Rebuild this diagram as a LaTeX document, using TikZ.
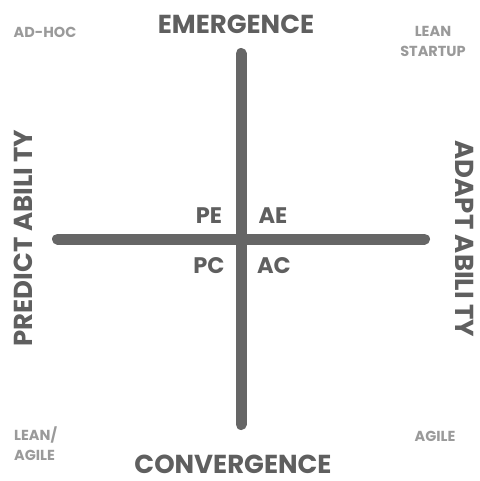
\documentclass[tikz,border=0pt]{standalone}
\usepackage{fontspec}
\setmainfont{Poppins}
\usetikzlibrary{positioning}
\definecolor{axisgray}{HTML}{666666}
\definecolor{labelgray}{HTML}{5F5F5F}
\definecolor{cornergray}{HTML}{9A9A9A}

\begin{document}
\begin{tikzpicture}[x=1pt,y=-1pt,
    axis/.style={line width=11pt, line cap=round, draw=axisgray},
    title/.style={font=\bfseries\fontsize{26}{26}\selectfont, text=labelgray, inner sep=0pt, text depth=0pt, anchor=base},
    side/.style={font=\bfseries\fontsize{26}{26}\selectfont, text=labelgray, inner sep=0pt, anchor=base},
    quad/.style={font=\bfseries\fontsize{22.5}{22.5}\selectfont, text=labelgray, inner sep=0pt, anchor=base},
    corner/.style={font=\bfseries\fontsize{14.5}{20}\selectfont, text=cornergray, inner sep=0pt}]
    \useasboundingbox (0,0) rectangle (479,481);

    % axes
    \coordinate (top) at (241,53.5);
    \coordinate (bottom) at (241,424.5);
    \coordinate (left) at (57.5,239);
    \coordinate (right) at (424.5,239);
    \draw [axis] (left) -- (right);
    \draw [axis] (top) -- (bottom);

    % axis labels
    \node [title] (emerge) at (236,34) {EMERGENCE};
    \node [title] (converge) at (233,473) {CONVERGENCE};
    \node [side, rotate=90] (predict) at (32,238) {PREDICT ABILI TY};
    \node [side, rotate=-90] (adapt) at (455,239) {ADAPT ABILI TY};

    % quadrants
    \node [quad] (pe) at (209,223) {PE};
    \node [quad] (ae) at (273,223) {AE};
    \node [quad] (pc) at (209,273) {PC};
    \node [quad] (ac) at (274,273) {AC};

    % corners
    \node [corner, anchor=base] (adhoc) at (45,38) {AD-HOC};
    \node [corner, anchor=base, align=center] (lean) at (433,57) {LEAN\\STARTUP};
    \node [corner, anchor=base west, align=left] (leanagile) at (14,460) {LEAN/\\AGILE};
    \node [corner, anchor=base] (agile) at (435,441) {AGILE};
\end{tikzpicture}
\end{document}
